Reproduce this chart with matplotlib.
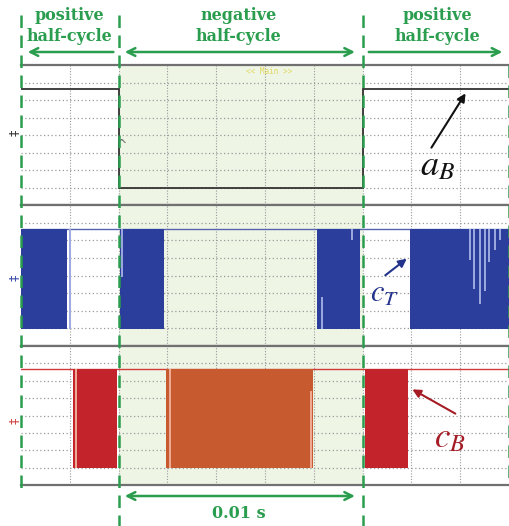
import matplotlib
matplotlib.use('Agg')
import matplotlib.pyplot as plt

plt.rcParams['mathtext.fontset'] = 'stix'

# time in ms (2 ms/div, 10 div), amplitude in divisions (8 div per channel)
HIGH, LOW = 6.65, 0.98
ab_edges = [0, 4.0, 14.0, 20.0]
ab_levels = [HIGH, LOW, HIGH]

cT_blocks = [(0.0, 1.9), (4.05, 5.85), (12.15, 13.9), (15.95, 20.0)]
cT_spike_t = [2.0, 4.14, 13.57, 18.4, 18.57, 18.8, 19.0, 19.2, 19.43, 19.63]
cT_spike_lo = [LOW, 3.9, 6.0, 4.86, 3.26, 2.4, 3.14, 4.74, 5.43, 6.0]
cT_spike_up_t = [12.34]
cT_spike_up_hi = [2.8]

cB_blocks = [(2.15, 3.95), (5.95, 11.95), (14.1, 15.85)]
cB_colors = ['#c3232a', '#c85a30', '#c3232a']
cB_spike_t = [2.25, 6.1, 11.9]
cB_spike_lo = [LOW, LOW, LOW]
cB_spike_hi = [HIGH, HIGH, 5.4]

neg_half = (4.0, 14.0)
half_labels = ['positive\nhalf-cycle', 'negative\nhalf-cycle', 'positive\nhalf-cycle']
half_label_x = [2.0, 8.9, 17.05]

GREEN = '#2a9d4e'
GRID = '#9a9a9a'

fig = plt.figure(figsize=(5.09, 5.26), dpi=100)
W, H = 509, 526
x0 = 21
panels_px = [(65, 205), (205, 346), (346, 485)]
axes = []
for top, bot in panels_px:
    ax = fig.add_axes([x0 / W, 1 - bot / H, (W - x0) / W, (bot - top) / H])
    ax.set_xlim(0, 20)
    ax.set_ylim(0, 8)
    ax.axvspan(*neg_half, color='#eef5e5', zorder=0, lw=0)
    for gx in range(2, 20, 2):
        ax.axvline(gx, color=GRID, lw=0.8, ls=(0, (1, 1.5)), zorder=1)
    for gy in range(1, 8):
        ax.axhline(gy, color=GRID, lw=0.9, ls=(0, (1, 2)), zorder=1)
    ax.set_xticks([])
    ax.set_yticks([])
    for s in ['top', 'bottom']:
        ax.spines[s].set_color('#707070')
        ax.spines[s].set_linewidth(1.6)
    for s in ['left', 'right']:
        ax.spines[s].set_visible(False)
    axes.append(ax)

ax1, ax2, ax3 = axes

# channel a_B
ax1.stairs(ab_levels, ab_edges, baseline=None, color='#333333', lw=1.3, zorder=3)
ax1.text(4.12, 3.4, '^', color='#777777', fontsize=10, ha='center', va='center')
ax1.text(10.16, 7.6, '<< Main >>', color='#e2d860', fontsize=5.5,
         family='DejaVu Sans Mono', ha='center', va='center')

# channel c_T
ax2.axhline(HIGH, color='#5564b0', lw=1.0, zorder=2)
for a, b in cT_blocks:
    ax2.fill_between([a, b], LOW, HIGH, color='#2b3e9c', lw=0, zorder=3)
ax2.vlines(cT_spike_t, cT_spike_lo, HIGH, color='#9eaae0', lw=1.4, zorder=4)
ax2.vlines(cT_spike_up_t, LOW, cT_spike_up_hi, color='#9eaae0', lw=1.4, zorder=4)

# channel c_B
ax3.axhline(HIGH, color='#d03a3a', lw=1.0, zorder=2)
for (a, b), c in zip(cB_blocks, cB_colors):
    ax3.fill_between([a, b], LOW, HIGH, color=c, lw=0, zorder=3)
ax3.vlines(cB_spike_t, cB_spike_lo, cB_spike_hi, color='#f0ad95', lw=1.4, zorder=4)

# overlay in (time, pixel-row) coordinates
ov = fig.add_axes([0, 0, 1, 1], zorder=10)
ov.set_xlim(-x0 / (W - x0) * 20, 20)
ov.set_ylim(H, 0)
ov.axis('off')

dash = (0, (5, 3))
ov.vlines([0], 15, 490, color=GREEN, lw=1.8, ls=dash)
ov.vlines(list(neg_half), 15, H, color=GREEN, lw=1.8, ls=dash)
ov.vlines([20], 65, 485, color=GREEN, lw=1.8, ls=dash)

for lbl, xx in zip(half_labels, half_label_x):
    ov.text(xx, 26, lbl, color=GREEN, fontsize=11.5, family='DejaVu Serif',
            weight='bold', ha='center', va='center', linespacing=1.35)

arr = dict(color=GREEN, lw=1.8, mutation_scale=14)
ov.annotate('', xy=(0.16, 52), xytext=(3.9, 52), arrowprops=dict(arrowstyle='->', **arr))
ov.annotate('', xy=(13.8, 52), xytext=(4.14, 52), arrowprops=dict(arrowstyle='<->', **arr))
ov.annotate('', xy=(19.84, 52), xytext=(14.14, 52), arrowprops=dict(arrowstyle='->', **arr))
ov.annotate('', xy=(13.8, 496), xytext=(4.14, 496), arrowprops=dict(arrowstyle='<->', **arr))
ov.text(8.93, 513, '0.01 s', color=GREEN, fontsize=11.5, family='DejaVu Serif',
        weight='bold', ha='center', va='center')

# signal labels
ov.text(17.05, 165, '$a_B$', fontsize=26, color='#111111', ha='center', va='center')
ov.annotate('', xy=(18.28, 91), xytext=(16.76, 150),
            arrowprops=dict(arrowstyle='-|>', color='#111111', lw=1.5, mutation_scale=12))
ov.text(14.88, 293, '$c_T$', fontsize=22, color='#24348c', ha='center', va='center')
ov.annotate('', xy=(15.9, 257), xytext=(14.84, 277),
            arrowprops=dict(arrowstyle='-|>', color='#24348c', lw=1.5, mutation_scale=12))
ov.text(17.58, 437, '$c_B$', fontsize=25, color='#a51c24', ha='center', va='center')
ov.annotate('', xy=(15.94, 388), xytext=(17.9, 415),
            arrowprops=dict(arrowstyle='-|>', color='#a51c24', lw=1.5, mutation_scale=12))

# channel ground markers
for yy, c in zip([133, 278, 421], ['#333333', '#3a4aa8', '#d04040']):
    ov.text(-0.3, yy, '‡', color=c, fontsize=9, rotation=90, ha='center', va='center')

fig.savefig('out.png', dpi=100)
